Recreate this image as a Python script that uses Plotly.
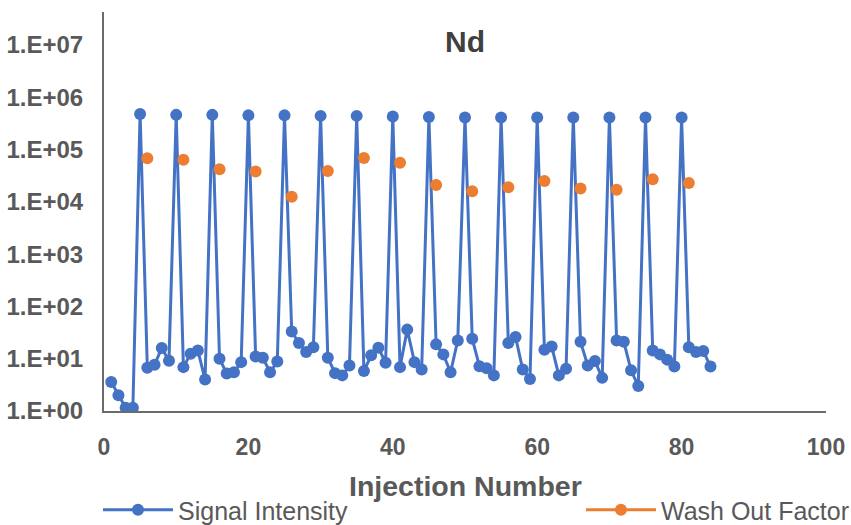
import plotly.graph_objects as go

# ---- data ----
injection = list(range(1, 85))
signal_intensity = [
    3.6, 2.0, 1.15, 1.15, 4.8e5, 6.7, 7.7, 16, 9.1, 4.6e5,
    6.9, 12.5, 14.4, 4.0, 4.6e5, 10, 5.2, 5.5, 8.6, 4.5e5,
    11, 10.4, 5.5, 8.8, 4.5e5, 33, 20, 13.4, 16.6, 4.4e5,
    10.4, 5.3, 4.8, 7.4, 4.4e5, 5.8, 11.6, 16.2, 8.4, 4.3e5,
    6.9, 36, 8.6, 6.2, 4.2e5, 18.8, 12.1, 5.5, 22.4, 4.1e5,
    24, 7.2, 6.6, 4.8, 4.1e5, 20, 26, 6.2, 4.1, 4.1e5,
    14.8, 17.2, 4.8, 6.4, 4.1e5, 21, 7.4, 9.0, 4.3, 4.1e5,
    22.4, 21, 6.0, 3.0, 4.1e5, 14.4, 12.1, 9.6, 7.1, 4.1e5,
    16.6, 13.4, 14, 7.1,
]
washout_x = [6, 11, 16, 21, 26, 31, 36, 41, 46, 51, 56, 61, 66, 71, 76, 81]
washout_factor = [6.8e4, 6.4e4, 4.2e4, 3.8e4, 1.25e4, 3.9e4, 6.9e4, 5.6e4,
                  2.1e4, 1.6e4, 1.9e4, 2.5e4, 1.8e4, 1.7e4, 2.7e4, 2.3e4]
y_tickvals = [1, 10, 100, 1e3, 1e4, 1e5, 1e6, 1e7]
y_ticktext = ["1.E+00", "1.E+01", "1.E+02", "1.E+03", "1.E+04", "1.E+05", "1.E+06", "1.E+07"]
x_tickvals = [0, 20, 40, 60, 80, 100]

BLUE = "#4472C4"
ORANGE = "#ED7D31"
GRAY = "#595959"
AXIS = "#6b6b6b"
FONT = "Liberation Sans, Arial, sans-serif"

# wash-out points are separate (no connecting line) but the legend shows line+marker
wx, wy = [], []
for xv, yv in zip(washout_x, washout_factor):
    wx += [xv, None]
    wy += [yv, None]

fig = go.Figure()
fig.add_trace(go.Scatter(
    x=injection, y=signal_intensity, mode="lines+markers",
    name="Signal Intensity",
    line=dict(color=BLUE, width=3),
    marker=dict(color=BLUE, size=12),
    legend="legend",
))
fig.add_trace(go.Scatter(
    x=wx, y=wy, mode="lines+markers",
    name="Wash Out Factor",
    line=dict(color=ORANGE, width=3),
    marker=dict(color=ORANGE, size=12),
    connectgaps=False,
    legend="legend2",
))

leg_common = dict(orientation="h", xref="container", yref="container",
                  xanchor="left", yanchor="middle", y=1 - 510 / 525,
                  font=dict(size=25, color=GRAY, family=FONT),
                  itemwidth=70, bgcolor="rgba(0,0,0,0)")

TOP, BOTTOM = 12, 411
plot_h = BOTTOM - TOP

fig.update_layout(
    width=851, height=525,
    margin=dict(l=104, r=25, t=TOP, b=525 - BOTTOM, autoexpand=False),
    paper_bgcolor="white", plot_bgcolor="white",
    font=dict(family=FONT, color=GRAY),
    title=dict(text="<b>Nd</b>", x=0.5, xref="paper", xanchor="center",
               y=1 - 41 / 525, yref="container", yanchor="middle",
               font=dict(size=30, color="#404040", family=FONT)),
    showlegend=True,
    legend=dict(x=98 / 851, **leg_common),
    legend2=dict(x=581 / 851, **leg_common),
    annotations=[dict(text="<b>Injection Number</b>", xref="paper", yref="paper",
                      x=0.5, y=-(486 - BOTTOM) / plot_h, xanchor="center", yanchor="middle",
                      showarrow=False, font=dict(size=28.5, color=GRAY, family=FONT))],
)
fig.update_xaxes(
    range=[0, 100], tickvals=x_tickvals, automargin=False,
    showline=True, linecolor=AXIS, linewidth=2, mirror=False,
    showgrid=False, zeroline=False, ticks="",
    tickfont=dict(size=23, family=FONT, color=GRAY, weight="bold"),
    ticklabelstandoff=14,
)
fig.update_yaxes(
    type="log", range=[0, 7.63], tickvals=y_tickvals, ticktext=y_ticktext, automargin=False,
    showline=True, linecolor=AXIS, linewidth=2,
    showgrid=False, zeroline=False, ticks="",
    tickfont=dict(size=24, family=FONT, color=GRAY, weight="bold"),
    ticklabelstandoff=14,
)

fig.write_html("out.html", config={"displayModeBar": False},
               post_script="document.body.style.margin='0';")
